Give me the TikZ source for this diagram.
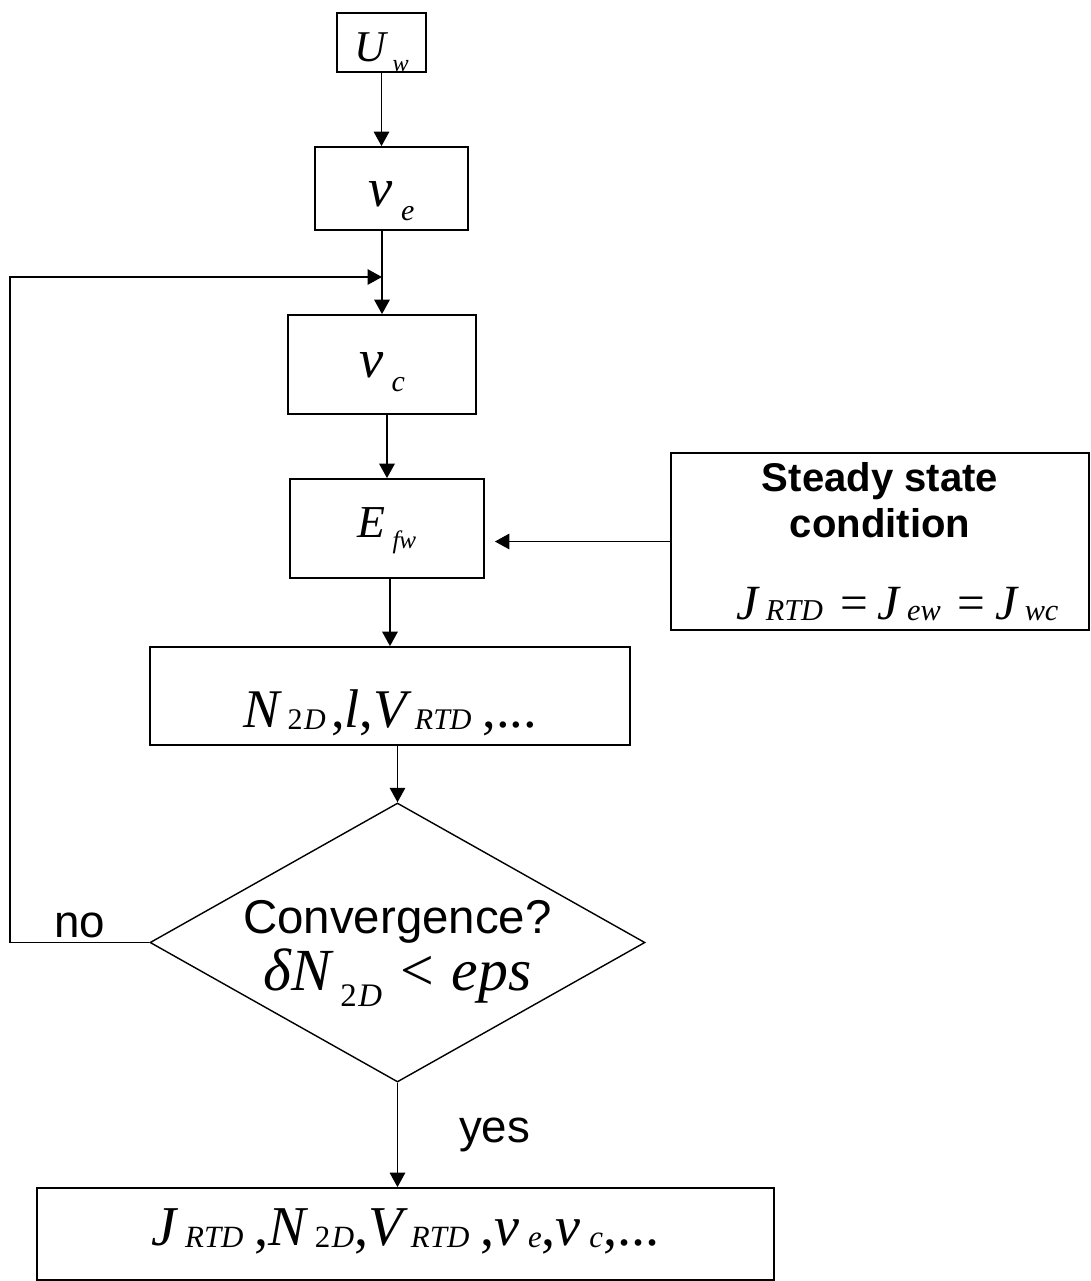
\documentclass[tikz,border=0pt]{standalone}
\usepackage{fontspec}
\setmainfont{Liberation Sans}
\newfontfamily\tms{Liberation Serif}
\usetikzlibrary{arrows.meta,shapes.geometric,positioning}
% lowered, shrunken subscript (equation-editor look)
\newcommand\sbs[2][-0.26em]{\kern0.15em\raisebox{#1}{\scalebox{0.55}{#2}}}
\tikzset{
  blk/.style={rectangle,draw,line width=1pt,inner sep=0pt,align=center},
  dec/.style={diamond,draw,line width=0.8pt,inner sep=0pt},
  arr/.style={-{Triangle[length=0.29cm,width=0.31cm]},line width=0.9pt},
  lbl/.style={font=\fontsize{26}{31}\selectfont},
  eqn/.style={font=\tms\itshape\fontsize{#1}{1.2\dimexpr#1pt\relax}\selectfont},
  eqn/.default=31,
  bl/.style={text height=#1,text depth=0pt},
}
\begin{document}
\begin{tikzpicture}
    \useasboundingbox (0,0) rectangle (21.82,-25.62);

    \node[blk,eqn=25,bl=0.74cm,minimum width=1.78cm,minimum height=1.18cm]
         (uw) at (7.63,-0.85) {U\sbs[-0.23em]{w}};
    \node[blk,eqn,bl=0.72cm,minimum width=3.06cm,minimum height=1.66cm]
         (ve) at (7.83,-3.77) {ν\sbs{e}};
    \node[blk,eqn,bl=0.5cm,minimum width=3.76cm,minimum height=1.98cm]
         (vc) at (7.64,-7.29) {ν\sbs{c}};
    \node[blk,eqn=26,bl=0.34cm,minimum width=3.88cm,minimum height=1.98cm]
         (ef) at (7.74,-10.57) {E\sbs{fw}};
    \node[blk,minimum width=8.36cm,minimum height=3.54cm,
          font=\bfseries\fontsize{22.8}{26}\selectfont]
         (st) at (17.6,-10.83)
         {Steady state\\condition\\[0.72cm]
          \tms\mdseries\itshape\fontsize{28}{33}\selectfont\hspace*{0.7cm}%
          J\sbs[-0.02em]{\scalebox{1.12}{RTD}}\kern0.35em{\upshape =}\kern0.2em
          J\sbs[-0.02em]{\scalebox{1.12}{ew}}\kern0.35em{\upshape =}\kern0.2em
          J\sbs[-0.02em]{\scalebox{1.12}{wc}}};
    \node[blk,eqn=31,bl=1.26cm,minimum width=9.6cm,minimum height=1.96cm]
         (nd) at (7.8,-13.92)
         {N\sbs[-0.04em]{\upshape 2\kern0.05em\itshape D}\kern0.1em{\upshape ,}l{\upshape ,}V\sbs[-0.04em]{RTD}\kern0.2em{\upshape ,...}};
    \node[dec,minimum width=9.9cm,minimum height=5.58cm]
         (dc) at (7.95,-18.85)
         {\raisebox{-0.61cm}{\smash{\makebox[0pt]{\begin{tabular}{@{}c@{}}
            \fontsize{27}{31}\selectfont Convergence?\\[5.4pt]
            \tms\itshape\fontsize{34}{40}\selectfont
            δN\sbs{\upshape 2\kern0.05em\itshape D}\kern0.3em{\upshape <}\kern0.3em eps
          \end{tabular}}}}};
    \node[blk,eqn=32,bl=0.44cm,minimum width=14.74cm,minimum height=1.84cm]
         (res) at (8.11,-24.68)
         {J\sbs[-0.05em]{RTD}\kern0.2em{\upshape ,}N\sbs[-0.05em]{\upshape 2\kern0.05em\itshape D}{\upshape ,}V\sbs[-0.05em]{RTD}\kern0.2em{\upshape ,}ν\sbs[-0.05em]{e}{\upshape ,}ν\sbs[-0.05em]{c}{\upshape ,...}};

    \coordinate (lp) at (0.2,-5.54);

    \draw[arr] (uw) -- (uw |- ve.north);
    \draw[arr] (vc.north |- ve.south) -- (vc.north);
    \draw[arr] (ef.north |- vc.south) -- (ef.north);
    \draw[arr] (nd.north |- ef.south) -- (nd.north);
    \draw[arr] (dc.north |- nd.south) -- (dc.north);
    \draw[arr] (st.west) -- ([xshift=0.2cm]ef.east |- st.west);
    \draw[arr] (dc.south) -- node[right,xshift=1.1cm,lbl]{yes} (dc.south |- res.north);
    \draw[arr] (dc.west) -- node[above,inner sep=2pt,lbl]{no} (dc.west -| lp)
          -- (lp) -- (vc.north |- lp);
\end{tikzpicture}
\end{document}
